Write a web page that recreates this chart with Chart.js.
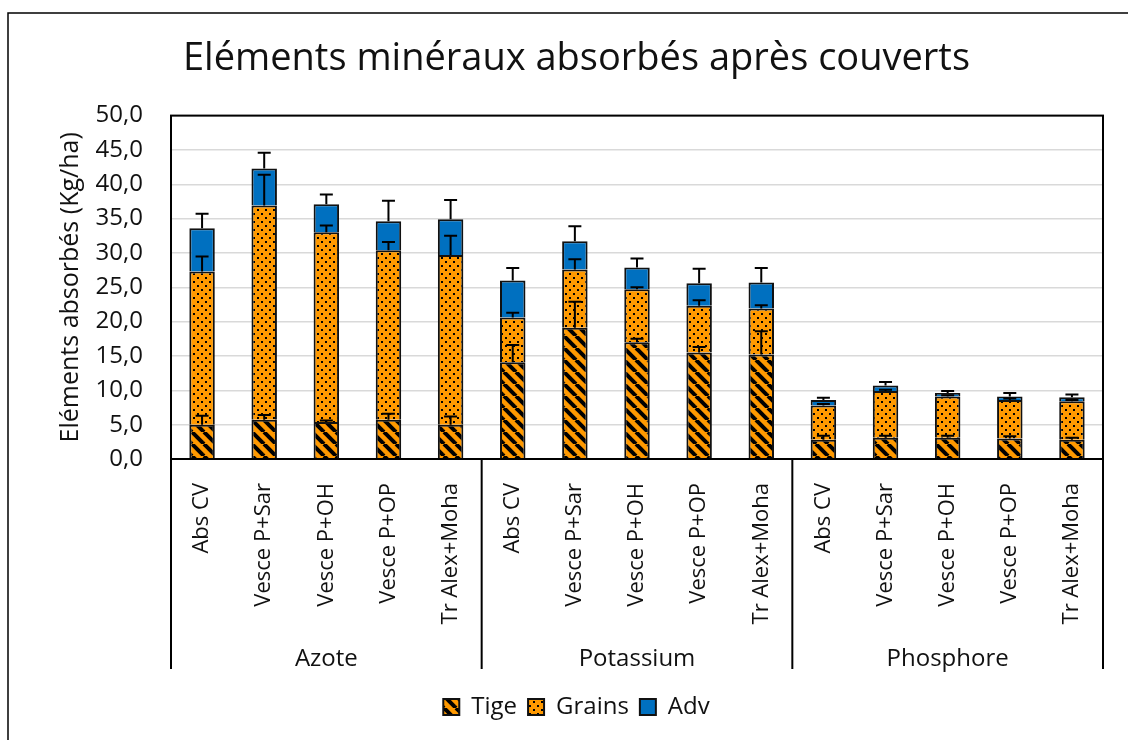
<!DOCTYPE html>
<html>
<head>
<meta charset="utf-8">
<script src="https://cdn.jsdelivr.net/npm/chart.js@4.4.0/dist/chart.umd.min.js"></script>
<style>
  html, body { margin: 0; padding: 0; background: #fff; }
  #wrap { width: 1128px; height: 740px; position: relative; }
</style>
</head>
<body>
<div id="wrap"><canvas id="chart"></canvas></div>
<script>
const categories = ['Abs CV', 'Vesce P+Sar', 'Vesce P+OH', 'Vesce P+OP', 'Tr Alex+Moha',
  'Abs CV', 'Vesce P+Sar', 'Vesce P+OH', 'Vesce P+OP', 'Tr Alex+Moha',
  'Abs CV', 'Vesce P+Sar', 'Vesce P+OH', 'Vesce P+OP', 'Tr Alex+Moha'];
const groups = ['Azote', 'Potassium', 'Phosphore'];

const tige = [5.0, 5.7, 5.4, 5.7, 5.0, 14.1, 19.1, 17.0, 15.5, 15.2, 2.8, 3.1, 3.1, 3.0, 2.8];
const grains = [22.3, 31.2, 27.6, 24.7, 24.7, 6.5, 8.5, 7.7, 6.8, 6.7, 5.0, 6.8, 6.0, 5.6, 5.6];
const adv = [6.3, 5.4, 4.1, 4.2, 5.2, 5.4, 4.1, 3.2, 3.3, 3.8, 0.8, 0.8, 0.5, 0.5, 0.6];

const tigeErr = [1.3, 0.7, 0.2, 0.9, 1.2, 2.5, 3.8, 0.5, 0.8, 3.4, 0.6, 0.3, 0.3, 0.3, 0.3];
const grainsErr = [2.2, 4.5, 1.0, 1.2, 2.8, 0.7, 1.5, 0.3, 0.8, 0.5, 0.2, 0.2, 0.2, 0.2, 0.2];
const advErr = [2.1, 2.3, 1.4, 3.0, 2.8, 1.8, 2.2, 1.3, 2.1, 2.1, 0.3, 0.5, 0.3, 0.5, 0.4];

const ORANGE = '#ff9900';
const BLUE = '#0070c0';
const FONT = "'Open Sans', 'Noto Sans', sans-serif";

// hatch patterns, like the Excel fills
function stripePattern() {
  const c = document.createElement('canvas');
  c.width = 12; c.height = 12;
  const g = c.getContext('2d');
  g.fillStyle = ORANGE;
  g.fillRect(0, 0, 12, 12);
  g.strokeStyle = '#000';
  g.lineWidth = 4;
  [-12, 0, 12].forEach(o => {
    g.beginPath();
    g.moveTo(o, 0);
    g.lineTo(o + 12, 12);
    g.stroke();
  });
  return g.createPattern(c, 'repeat');
}

function dotPattern() {
  const c = document.createElement('canvas');
  c.width = 8; c.height = 8;
  const g = c.getContext('2d');
  g.fillStyle = ORANGE;
  g.fillRect(0, 0, 8, 8);
  g.fillStyle = '#000';
  g.fillRect(1, 1, 2, 2);
  g.fillRect(5, 5, 2, 2);
  return g.createPattern(c, 'repeat');
}

const errorSets = [tigeErr, grainsErr, advErr];

const errorBars = {
  id: 'errorBars',
  afterDatasetsDraw(chart) {
    const ctx = chart.ctx;
    const y = chart.scales.y;
    ctx.save();
    ctx.strokeStyle = '#000';
    ctx.lineWidth = 2;
    chart.data.datasets.forEach((ds, i) => {
      const meta = chart.getDatasetMeta(i);
      meta.data.forEach((bar, j) => {
        let total = 0;
        for (let k = 0; k <= i; k++) total += chart.data.datasets[k].data[j];
        const top = y.getPixelForValue(total + errorSets[i][j]);
        ctx.beginPath();
        ctx.moveTo(bar.x, bar.y);
        ctx.lineTo(bar.x, top);
        ctx.moveTo(bar.x - 6.5, top);
        ctx.lineTo(bar.x + 6.5, top);
        ctx.stroke();
      });
    });
    ctx.restore();
  }
};

const SEP_BELOW = 15; // separators stop this far above the bottom of the group row

const frame = {
  id: 'frame',
  afterDraw(chart) {
    const ctx = chart.ctx;
    const a = chart.chartArea;
    const x = chart.scales.x;
    const x2 = chart.scales.x2;
    ctx.save();
    ctx.strokeStyle = '#000';
    ctx.lineWidth = 1.5;
    ctx.strokeRect(8, 13, 1200, 800);
    ctx.lineWidth = 2;
    ctx.strokeRect(a.left, a.top, a.right - a.left, a.bottom - a.top);
    const per = categories.length / groups.length;
    const xs = [a.left];
    for (let g = 1; g < groups.length; g++) {
      xs.push((x.getPixelForValue(g * per - 1) + x.getPixelForValue(g * per)) / 2);
    }
    xs.push(a.right);
    ctx.beginPath();
    xs.forEach(px => {
      ctx.moveTo(px, a.bottom);
      ctx.lineTo(px, x2.bottom - SEP_BELOW);
    });
    ctx.stroke();
    ctx.restore();
  }
};

new Chart(document.getElementById('chart'), {
  type: 'bar',
  data: {
    labels: categories,
    datasets: [
      { label: 'Tige', data: tige, backgroundColor: stripePattern(), borderColor: '#111', borderWidth: 2 },
      { label: 'Grains', data: grains, backgroundColor: dotPattern(), borderColor: '#111', borderWidth: 2 },
      { label: 'Adv', data: adv, backgroundColor: BLUE, borderColor: '#111', borderWidth: 2 }
    ]
  },
  options: {
    responsive: true,
    maintainAspectRatio: false,
    animation: false,
    datasets: { bar: { barPercentage: 0.41, categoryPercentage: 1 } },
    layout: { padding: { top: 36, left: 50, right: 25, bottom: 11 } },
    plugins: {
      title: {
        display: true,
        text: 'Eléments minéraux absorbés après couverts',
        color: '#111',
        font: { family: FONT, size: 38, weight: 'normal' },
        padding: { top: 0, bottom: 34 }
      },
      legend: {
        position: 'bottom',
        labels: {
          color: '#111',
          font: { family: FONT, size: 24 },
          boxWidth: 16,
          boxHeight: 16,
          padding: 11
        }
      },
      tooltip: { enabled: false }
    },
    scales: {
      x: {
        stacked: true,
        grid: { display: false },
        border: { display: false },
        afterFit: s => { s.height = 170; },
        ticks: {
          color: '#111',
          font: { family: FONT, size: 22 },
          maxRotation: 90,
          minRotation: 90,
          autoSkip: false,
          padding: 16
        }
      },
      x2: {
        type: 'category',
        labels: groups,
        position: 'bottom',
        offset: true,
        weight: 1,
        grid: { display: false },
        border: { display: false },
        afterFit: s => { s.height = 55; },
        ticks: {
          color: '#111',
          font: { family: FONT, size: 24 },
          maxRotation: 0,
          padding: 8
        }
      },
      y: {
        stacked: true,
        min: 0,
        max: 50,
        border: { display: false },
        grid: { color: '#d9d9d9', lineWidth: 1.5, drawTicks: false },
        afterFit: s => { s.width = 121; },
        ticks: {
          stepSize: 5,
          color: '#111',
          font: { family: FONT, size: 24 },
          padding: 28,
          callback: v => v.toFixed(1).replace('.', ',')
        },
        title: {
          display: true,
          text: 'Eléments absorbés (Kg/ha)',
          color: '#111',
          font: { family: FONT, size: 25 },
          padding: { top: 6, bottom: 14 }
        }
      }
    }
  },
  plugins: [errorBars, frame]
});
</script>
</body>
</html>
